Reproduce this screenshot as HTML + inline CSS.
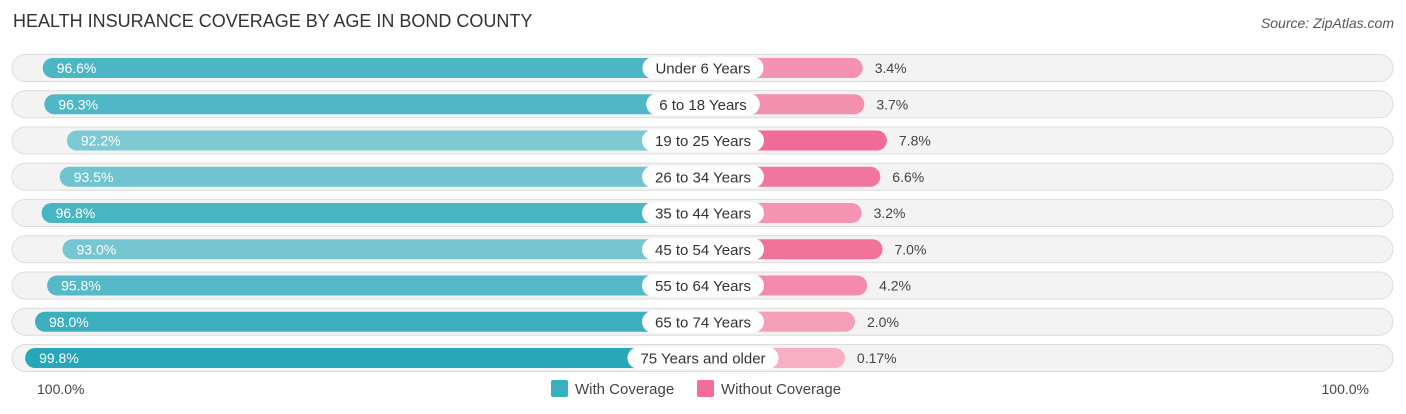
<!DOCTYPE html>
<html><head><meta charset="utf-8">
<style>
body{margin:0;background:#fff;font-family:"Liberation Sans",sans-serif;}
#wrap{position:relative;width:1406px;height:414px;overflow:hidden;}
.t{position:absolute;white-space:nowrap;}
</style></head>
<body>
<div id="wrap">
<div class="t" style="left:13px;top:11px;font-size:18px;color:#333;">HEALTH INSURANCE COVERAGE BY AGE IN BOND COUNTY</div>
<div class="t" style="right:12px;top:15px;font-size:14px;color:#555;font-style:italic;">Source: ZipAtlas.com</div>
<svg id="svg" width="1406" height="414" style="position:absolute;left:0;top:0"></svg>
<div class="t" style="left:37px;top:381px;font-size:14px;color:#444;">100.0%</div>
<div class="t" style="right:37px;top:381px;font-size:14px;color:#444;">100.0%</div>
<div class="t" style="left:551px;top:380px;font-size:15px;color:#444;"><span style="display:inline-block;width:17px;height:17px;background:#3aafbf;border-radius:2px;vertical-align:-3px;margin-right:7px"></span>With Coverage</div>
<div class="t" style="left:697px;top:380px;font-size:15px;color:#444;"><span style="display:inline-block;width:17px;height:17px;background:#f06e98;border-radius:2px;vertical-align:-3px;margin-right:7px"></span>Without Coverage</div>
</div>
<script>
const categories=["Under 6 Years","6 to 18 Years","19 to 25 Years","26 to 34 Years","35 to 44 Years","45 to 54 Years","55 to 64 Years","65 to 74 Years","75 Years and older"];
const withCov=[96.6,96.3,92.2,93.5,96.8,93.0,95.8,98.0,99.8];
const withoutCov=[3.4,3.7,7.8,6.6,3.2,7.0,4.2,2.0,0.17];
const withLabels=["96.6%","96.3%","92.2%","93.5%","96.8%","93.0%","95.8%","98.0%","99.8%"];
const withoutLabels=["3.4%","3.7%","7.8%","6.6%","3.2%","7.0%","4.2%","2.0%","0.17%"];

const NS="http://www.w3.org/2000/svg";
const svg=document.getElementById('svg');
const CX=703, PX=5.5;
const leftX=v=>24+PX*(100-v);
const rightX=v=>844+PX*v;
const rowY=i=>68+36.25*i;
function mix(a,b,t){return 'rgb('+a.map((c,k)=>Math.round(c+(b[k]-c)*t)).join(',')+')';}
function mk(tag,attrs){const e=document.createElementNS(NS,tag);for(const k in attrs)e.setAttribute(k,attrs[k]);svg.appendChild(e);return e;}
categories.forEach((cat,i)=>{
  const y=rowY(i);
  const bg=mk('rect',{x:12,y:y-13.5,width:1381,height:27,rx:13.5,fill:'#f3f3f3',stroke:'#dcdcdc'});
  
  
  const lx=leftX(withCov[i]);
  const tw=Math.min(1,Math.max(0,(withCov[i]-92)/8));
  const lb=mk('rect',{x:lx,y:y-10,width:CX-lx,height:20,rx:10,fill:mix([128,203,213],[37,166,183],tw)});
  
  
  const rx=rightX(withoutCov[i]);
  const tp=Math.min(1,withoutCov[i]/8);
  const rb=mk('rect',{x:CX-20,y:y-10,width:rx-CX+20,height:20,rx:10,fill:mix([248,176,197],[240,106,149],tp)});
  
  
  const lt=mk('text',{x:lx+14,y:y+5,'font-size':14,fill:'#fff','font-family':'Liberation Sans, sans-serif'});
  lt.textContent=withLabels[i];
  
  
  const rt=mk('text',{x:rx+12,y:y+5,'font-size':14,fill:'#444','font-family':'Liberation Sans, sans-serif'});
  rt.textContent=withoutLabels[i];
  
  
  const ct=mk('text',{x:CX,y:y+5.5,'font-size':15,fill:'#333','text-anchor':'middle','font-family':'Liberation Sans, sans-serif'});
  ct.textContent=cat;
  const w=ct.getComputedTextLength()+26;
  const pill=mk('rect',{x:CX-w/2,y:y-11,width:w,height:22,rx:11,fill:'#fff'});
  
  
  svg.appendChild(ct);
  
  
});
</script>
</body></html>
